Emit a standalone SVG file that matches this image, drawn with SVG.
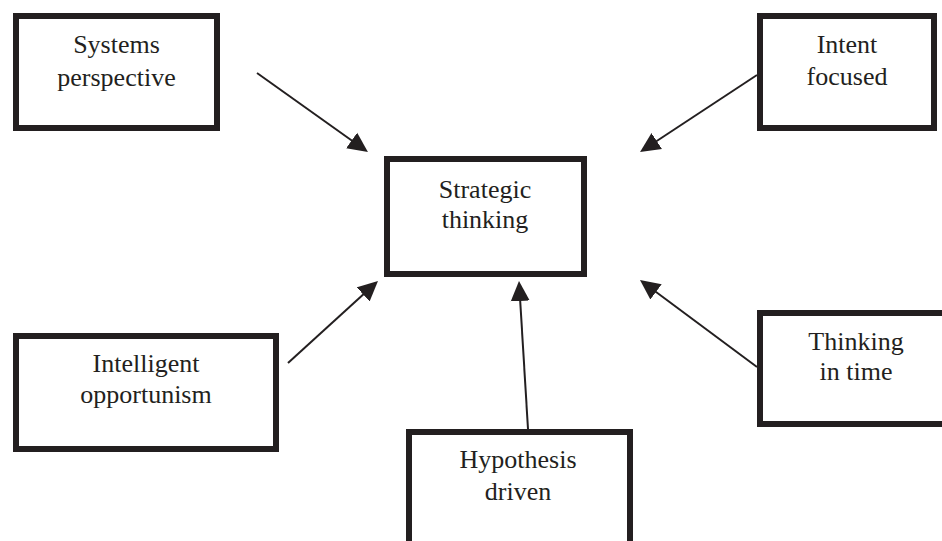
<svg xmlns="http://www.w3.org/2000/svg" width="942" height="541" viewBox="0 0 942 541">
<style>
.box{fill:#fff;stroke:#231f20;stroke-width:6}
.lbl{font-family:"Liberation Serif","Times New Roman",serif;font-size:26px;fill:#231f20;text-anchor:middle}
.conn{stroke:#231f20;stroke-width:2;fill:none;marker-end:url(#ah)}
</style>
<defs>
<marker id="ah" viewBox="0 0 20 20" refX="10" refY="10" markerWidth="20" markerHeight="20" markerUnits="userSpaceOnUse" orient="auto">
<path d="M0,0.5 L20,10 L0,19.5 z" fill="#231f20"/>
</marker>
</defs>
<rect width="942" height="541" fill="#fff"/>
<g id="connectors">
<line class="conn" x1="257" y1="73" x2="359.8" y2="146.2"/>
<line class="conn" x1="757" y1="75" x2="648.4" y2="146.5"/>
<line class="conn" x1="288" y1="363" x2="370.6" y2="287.7"/>
<line class="conn" x1="528" y1="429" x2="519.6" y2="291"/>
<line class="conn" x1="757" y1="367" x2="648" y2="286"/>
</g>
<g id="systems">
<rect class="box" x="16" y="16" width="201" height="112"/>
<text class="lbl" x="116.5" y="53">Systems</text>
<text class="lbl" x="116.5" y="86">perspective</text>
</g>
<g id="intent">
<rect class="box" x="760" y="16" width="174" height="112"/>
<text class="lbl" x="847" y="53">Intent</text>
<text class="lbl" x="847" y="85">focused</text>
</g>
<g id="strategic">
<rect class="box" x="387" y="159" width="197" height="115"/>
<text class="lbl" x="485" y="198">Strategic</text>
<text class="lbl" x="485" y="228">thinking</text>
</g>
<g id="intelligent">
<rect class="box" x="16" y="336" width="260" height="113"/>
<text class="lbl" x="146" y="372">Intelligent</text>
<text class="lbl" x="146" y="403">opportunism</text>
</g>
<g id="hypothesis">
<rect class="box" x="409" y="432" width="221" height="200"/>
<text class="lbl" x="518" y="468">Hypothesis</text>
<text class="lbl" x="518" y="500">driven</text>
</g>
<g id="thinking">
<rect class="box" x="760" y="313" width="200" height="111"/>
<text class="lbl" x="856" y="350">Thinking</text>
<text class="lbl" x="856" y="380">in time</text>
</g>
</svg>
